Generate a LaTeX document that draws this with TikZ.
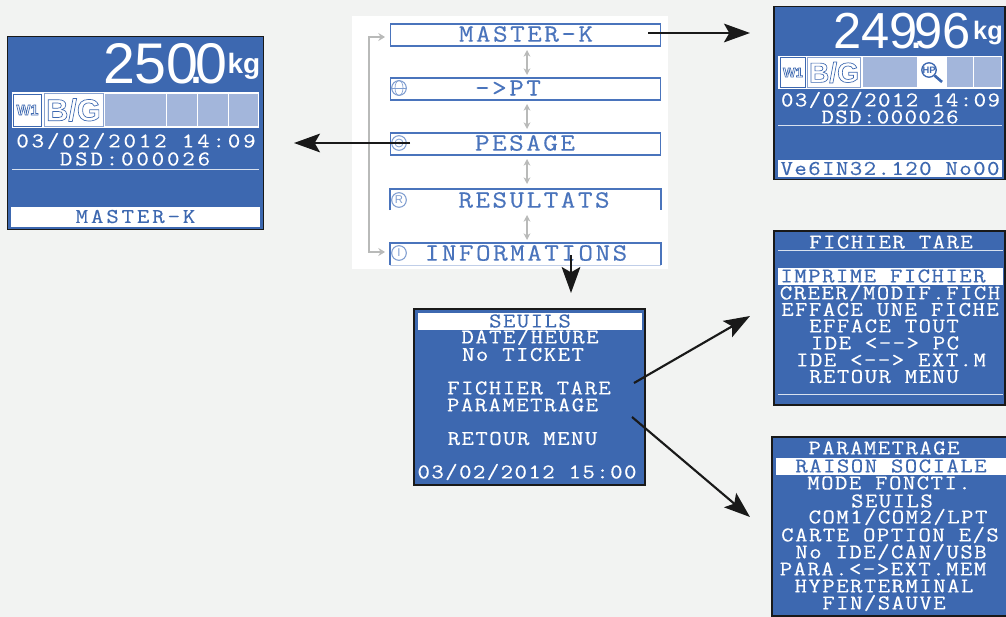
\documentclass[tikz,border=0pt]{standalone}
\usepackage{fontspec}
\usetikzlibrary{arrows.meta}
\setmainfont{Liberation Sans}
\newfontfamily\lcdface[LetterSpace=6.8,FakeStretch=1.15,FakeBold=0.35,Ligatures=NoCommon]{Latin Modern Mono}
\newfontfamily\lcdwide[LetterSpace=13.7,FakeStretch=1.15,FakeBold=0.35,Ligatures=NoCommon]{Latin Modern Mono}
\newfontfamily\lcdmenu[LetterSpace=10,FakeStretch=1.15,FakeBold=0.35,Ligatures=NoCommon]{Latin Modern Mono}
\definecolor{screenblue}{HTML}{3D68B0}
\definecolor{cellblue}{HTML}{A3B6DB}
\definecolor{rowblue}{HTML}{4A74BC}
\definecolor{pagegray}{HTML}{F2F3F2}
\definecolor{linkgray}{HTML}{B9BAB9}
\newcommand{\hollow}[1]{\special{pdf:code 1 Tr 0.5 w}#1\special{pdf:code 0 Tr}}
\begin{document}
\begin{tikzpicture}[
x=0.75pt,y=-0.75pt,
screen/.style={
  draw=black!90,
  fill=screenblue,
  line width=1.2pt,
  inner sep=0pt
  },
lcd/.style={
  text=white,
  inner sep=0pt,
  font=\fontsize{15.75}{14}\lcdface
  },
lcdbig/.style={
  lcd,
  font=\fontsize{15.75}{14}\lcdwide
  },
rowtext/.style={
  text=rowblue,
  inner sep=0pt,
  font=\fontsize{18.5}{17}\lcdmenu
  },
selbar/.style={
  draw=none,
  fill=white,
  inner sep=0pt
  },
cell/.style={
  draw=none,
  fill=cellblue,
  inner sep=0pt
  },
iconcell/.style={
  draw=none,
  fill=white,
  inner sep=0pt
  },
rowicon/.style={
  circle,
  draw=rowblue!70,
  line width=0.8pt,
  minimum size=11pt,
  inner sep=0pt,
  text=rowblue!70,
  font=\fontsize{8.5}{8}\selectfont
  },
rule/.style={
  white!80!screenblue,
  line width=0.7pt
  },
rowline/.style={
  rowblue,
  line width=1.2pt
  },
link/.style={
  linkgray,
  line width=1.2pt,
  {Stealth[length=5pt,width=5pt]}-{Stealth[length=5pt,width=5pt]}
  },
jump/.style={
  black!90,
  line width=1.6pt,
  -{Stealth[length=19.5pt,width=14pt,inset=4pt]}
  }
]
\useasboundingbox (0,0) rectangle (1006,617);
\fill[pagegray] (0,0) rectangle (1006,617);
\fill[white] (352,16) rectangle (668,269);

% overview rows
\foreach \nm/\yy in {master/35,pt/89,pesage/144}
  \node[draw=rowblue,line width=0.9pt,minimum width=203pt,minimum height=16.5pt,inner sep=0pt] (\nm) at (525.5,\yy) {};
\coordinate (resA) at (390,210);
\coordinate (resB) at (390,189);
\coordinate (resC) at (661,189);
\coordinate (resD) at (661,210);
\draw[rowline] (resA) -- (resB) -- (resC) -- (resD);
\coordinate (infA) at (390,265);
\coordinate (infB) at (390,243);
\coordinate (infC) at (661,243);
\coordinate (infD) at (661,265);
\draw[rowline,line width=0.9pt] (infA) -- (infB) -- (infC) -- (infD);
\draw[rowblue!35,line width=0.7pt] (infA) -- (infD);

\node[rowtext] (tmaster) at (526,34) {MASTER-K};
\node[rowtext] (tpt) at (508,88) {->PT};
\node[rowtext] (tpesage) at (525,143) {PESAGE};
\node[rowtext] (tres) at (534,200) {RESULTATS};
\node[rowtext] (tinf) at (526,253) {INFORMATIONS};

\node[rowicon] (ipt) at (399,88) {};
\draw[rowblue!70,line width=0.5pt] (ipt) ellipse (4 and 7.5);
\draw[rowblue!70,line width=0.5pt] (ipt.west) -- (ipt.east);
\node[rowicon] (ipes) at (399,143) {};
\draw[rowblue!70,line width=0.6pt] (ipes) circle (4);
\fill[rowblue!70] (ipes) circle (1.5);
\node[rowicon] (ires) at (399,200) {R};
\node[rowicon] (iinf) at (399,253) {I};

% gray links
\foreach \yy [count=\ai] in {50,104,159,215}
{
  \coordinate (up\ai) at (527,\yy);
  \coordinate (dn\ai) at (527,\yy+25);
  \draw[link] (up\ai) -- (dn\ai);
}
\coordinate (brk) at (369,37);
\coordinate (brkA) at (385,37);
\coordinate (brkB) at (369,252);
\coordinate (brkC) at (385,252);
\draw[linkgray,line width=1.2pt,{Stealth[length=5pt,width=6pt]}-{Stealth[length=5pt,width=6pt]}] (brkA) -- (brk) -- (brkB) -- (brkC);

% left screen
\node[screen,minimum width=192pt,minimum height=145pt] (left) at (135.5,133) {};
\node[text=white,inner sep=0pt,font=\fontsize{43}{43}\selectfont] (lval) at (165,64) {250\kern-.17em.\kern-.17em0};
\node[text=white,inner sep=0pt,font=\bfseries\fontsize{21}{21}\selectfont] (lkg) at (244,66) {kg};
\fill[white] (12,92) rectangle (259,128);
\node[iconcell,draw=screenblue,line width=0.5pt,minimum width=21pt,minimum height=24pt,text=screenblue,font=\bfseries\fontsize{11}{11}\selectfont] (lw) at (27.5,110) {\hollow{W1}};
\node[iconcell,draw=screenblue!60,line width=0.5pt,minimum width=44pt,minimum height=25pt,text=screenblue,font=\bfseries\fontsize{23}{23}\selectfont] (lbg) at (73.5,110) {\hollow{B/G}};
\foreach \xa/\ww [count=\ai] in {135.5/61,182/30,213/30,243.5/29}
  \node[cell,minimum width=\ww*0.75pt,minimum height=24.5pt] (lc\ai) at (\xa,110) {};
\node[lcdbig] (ldate) at (136,141) {03/02/2012 14:09};
\node[lcdbig] (ldsd) at (135,159) {DSD:000026};
\coordinate (lrA) at (12,169);
\coordinate (lrB) at (259,169);
\draw[rule] (lrA) -- (lrB);
\node[selbar,minimum width=187pt,minimum height=15pt] (lbar) at (135.5,217) {};
\node[lcdbig,text=screenblue] (lbart) at (135.5,216.5) {MASTER-K};

% top right screen
\node[screen,minimum width=173pt,minimum height=130pt] (top) at (889.5,93) {};
\node[text=white,inner sep=0pt,font=\fontsize{38}{38}\selectfont] (tval) at (902,31) {249\kern-.17em.\kern-.17em96};
\node[text=white,inner sep=0pt,font=\bfseries\fontsize{19}{19}\selectfont] (tkg) at (988,33) {kg};
\fill[white] (778,56) rectangle (1002,89);
\node[iconcell,draw=screenblue,line width=0.5pt,minimum width=19pt,minimum height=22.5pt,text=screenblue,font=\bfseries\fontsize{10}{10}\selectfont] (tw) at (793,72.5) {\hollow{W1}};
\node[iconcell,draw=screenblue!60,line width=0.5pt,minimum width=40pt,minimum height=22.5pt,text=screenblue,font=\bfseries\fontsize{21}{21}\selectfont] (tbg) at (834,72.5) {\hollow{B/G}};
\foreach \xa/\ww [count=\ai] in {890/54,960/26,987.5/27}
  \node[cell,minimum width=\ww*0.75pt,minimum height=22.5pt] (tc\ai) at (\xa,72.5) {};
\node[iconcell,minimum width=19pt,minimum height=22.5pt] (thp) at (932,72.5) {};
\node[circle,draw=screenblue,line width=1pt,minimum size=10.5pt,inner sep=0pt,text=screenblue,font=\bfseries\fontsize{7}{7}\selectfont] (thpi) at (929,70) {HP};
\coordinate (thA) at (thpi.-45);
\coordinate (thB) at (942,82);
\draw[screenblue,line width=2pt] (thA) -- (thB);
\node[lcd] (tdate) at (890.5,100) {03/02/2012 14:09};
\node[lcd] (tdsd) at (890,117) {DSD:000026};
\coordinate (trA) at (778,125.5);
\coordinate (trB) at (1002,125.5);
\draw[rule] (trA) -- (trB);
\node[selbar,minimum width=168pt,minimum height=13pt] (tbar) at (890,168.5) {};
\node[lcd,text=screenblue] (tbart) at (890,168.5) {Ve6IN32.120 No00};

% centre screen
\node[screen,minimum width=173pt,minimum height=132pt] (mid) at (529.5,397) {};
\node[selbar,minimum width=168pt,minimum height=13pt] (mbar) at (530,321.5) {};
\node[lcd,text=screenblue] (mt0) at (530,321) {SEUILS};
\foreach \xx/\yy/\txt [count=\ai] in {530/337/{DATE/HEURE},523/354.5/{No TICKET},529/388/{FICHIER TARE},522.5/405/{PARAMETRAGE},522.5/438.5/{RETOUR MENU},527/472/{03/02/2012 15:00}}
  \node[lcd] (mt\ai) at (\xx,\yy) {\txt};

% tare screen
\node[screen,minimum width=173pt,minimum height=130.5pt] (tare) at (889.5,318) {};
\node[lcd] (ft0) at (891,242) {FICHIER TARE};
\coordinate (frA) at (778,250);
\coordinate (frB) at (1003,250);
\draw[rule] (frA) -- (frB);
\node[selbar,minimum width=169pt,minimum height=13pt] (fbar) at (890.5,276.5) {};
\node[lcd,text=screenblue] (ftsel) at (883,276) {IMPRIME FICHIER};
\foreach \xx/\yy/\txt [count=\ai] in {890/293/{CREER/MODIF.FICH},890/309.5/{EFFACE UNE FICHE},884/326/{EFFACE TOUT},885/343/{IDE <--> PC},891/360/{IDE <--> EXT.M},884/376.5/{RETOUR MENU}}
  \node[lcd] (ft\ai) at (\xx,\yy) {\txt};
\coordinate (fsA) at (778,394);
\coordinate (fsB) at (1003,394);
\draw[rule] (fsA) -- (fsB);

% parametrage screen
\node[screen,minimum width=176pt,minimum height=134pt] (para) at (889.5,526.5) {};
\node[selbar,minimum width=172.5pt,minimum height=13pt] (pbar) at (891,466.5) {};
\node[lcd,text=screenblue] (ptsel) at (891,466) {RAISON SOCIALE};
\foreach \xx/\yy/\txt [count=\ai] in {884/448/{PARAMETRAGE},889/483/{MODE FONCTI.},892/501/{SEUILS},898/517/{COM1/COM2/LPT},890/535/{CARTE OPTION E/S},891/552/{No IDE/CAN/USB},883/569/{PARA.<->EXT.MEM},884/586/{HYPERTERMINAL},884/603/{FIN/SAUVE}}
  \node[lcd] (pt\ai) at (\xx,\yy) {\txt};

% black arrows
\coordinate (aMaster) at (648,33);
\coordinate (aTop) at (750,33);
\coordinate (aPesage) at (410,143);
\coordinate (aLeft) at (294,143);
\coordinate (aInfo) at (571,255);
\coordinate (aMid) at (571,293);
\coordinate (aFic) at (634,383);
\coordinate (aTare) at (750,316);
\coordinate (aPar) at (632,417);
\coordinate (aPara) at (750,517);
\draw[jump] (aMaster) -- (aTop);
\draw[jump] (aPesage) -- (aLeft);
\draw[jump] (aInfo) -- (aMid);
\draw[jump] (aFic) -- (aTare);
\draw[jump] (aPar) -- (aPara);
\end{tikzpicture}
\end{document}
